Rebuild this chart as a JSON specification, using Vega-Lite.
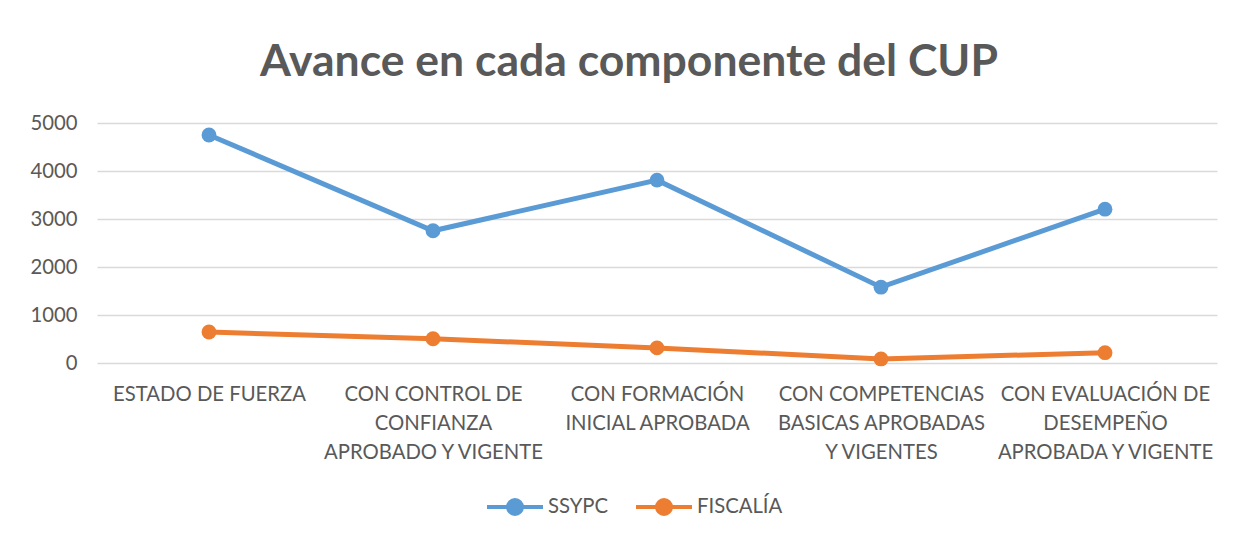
{
  "$schema": "https://vega.github.io/schema/vega-lite/v6.json",
  "width": 1120,
  "height": 240,
  "autosize": {"type": "none"},
  "padding": {"left": 97, "top": 123, "right": 18, "bottom": 174},
  "background": "white",
  "title": {
    "text": "Avance en cada componente del CUP",
    "font": "Lato",
    "fontSize": 44.5,
    "fontWeight": "bold",
    "color": "#595959",
    "anchor": "middle",
    "dx": -28,
    "offset": 28
  },
  "config": {
    "view": {"stroke": null},
    "axis": {"labelFont": "Lato", "labelColor": "#595959", "domain": false, "ticks": false, "title": null}
  },
  "data": {
    "values": [
      {"componente": "ESTADO DE FUERZA", "serie": "SSYPC", "valor": 4750},
      {"componente": "CON CONTROL DE CONFIANZA APROBADO Y VIGENTE", "serie": "SSYPC", "valor": 2755},
      {"componente": "CON FORMACIÓN INICIAL APROBADA", "serie": "SSYPC", "valor": 3810},
      {"componente": "CON COMPETENCIAS BASICAS APROBADAS Y VIGENTES", "serie": "SSYPC", "valor": 1580},
      {"componente": "CON EVALUACIÓN DE DESEMPEÑO APROBADA Y VIGENTE", "serie": "SSYPC", "valor": 3205},
      {"componente": "ESTADO DE FUERZA", "serie": "FISCALÍA", "valor": 645},
      {"componente": "CON CONTROL DE CONFIANZA APROBADO Y VIGENTE", "serie": "FISCALÍA", "valor": 505},
      {"componente": "CON FORMACIÓN INICIAL APROBADA", "serie": "FISCALÍA", "valor": 315},
      {"componente": "CON COMPETENCIAS BASICAS APROBADAS Y VIGENTES", "serie": "FISCALÍA", "valor": 85},
      {"componente": "CON EVALUACIÓN DE DESEMPEÑO APROBADA Y VIGENTE", "serie": "FISCALÍA", "valor": 215}
    ]
  },
  "mark": {"type": "line", "strokeWidth": 5, "point": {"filled": true, "size": 220}},
  "encoding": {
    "x": {
      "field": "componente",
      "type": "nominal",
      "sort": null,
      "scale": {"type": "point", "padding": 0.5},
      "axis": {
        "labelAngle": 0,
        "labelFontSize": 20.3,
        "labelPadding": 21,
        "labelLineHeight": 29,
        "labelLimit": 0,
        "grid": false,
        "labelExpr": "datum.label == 'CON CONTROL DE CONFIANZA APROBADO Y VIGENTE' ? ['CON CONTROL DE', 'CONFIANZA', 'APROBADO Y VIGENTE'] : datum.label == 'CON FORMACIÓN INICIAL APROBADA' ? ['CON FORMACIÓN', 'INICIAL APROBADA'] : datum.label == 'CON COMPETENCIAS BASICAS APROBADAS Y VIGENTES' ? ['CON COMPETENCIAS', 'BASICAS APROBADAS', 'Y VIGENTES'] : datum.label == 'CON EVALUACIÓN DE DESEMPEÑO APROBADA Y VIGENTE' ? ['CON EVALUACIÓN DE', 'DESEMPEÑO', 'APROBADA Y VIGENTE'] : datum.label"
      }
    },
    "y": {
      "field": "valor",
      "type": "quantitative",
      "scale": {"domain": [0, 5000], "nice": false},
      "axis": {
        "values": [0, 1000, 2000, 3000, 4000, 5000],
        "format": "d",
        "labelFontSize": 20.3,
        "labelPadding": 20,
        "grid": true,
        "gridColor": "#d9d9d9",
        "gridWidth": 1.5
      }
    },
    "color": {
      "field": "serie",
      "type": "nominal",
      "scale": {"domain": ["SSYPC", "FISCALÍA"], "range": ["#5b9bd5", "#ed7d31"]},
      "legend": {
        "title": null,
        "orient": "none",
        "direction": "horizontal",
        "legendX": 388,
        "legendY": 354,
        "padding": 0,
        "symbolType": "M-1,0L1,0M-0.25,0A0.25,0.25,0,1,1,0.25,0A0.25,0.25,0,1,1,-0.25,0Z",
        "symbolSize": 3136,
        "symbolStrokeWidth": 4,
        "symbolFillColor": null,
        "labelFont": "Lato",
        "labelFontSize": 20.3,
        "labelColor": "#595959",
        "labelOffset": 3,
        "columnPadding": 19
      }
    }
  }
}
